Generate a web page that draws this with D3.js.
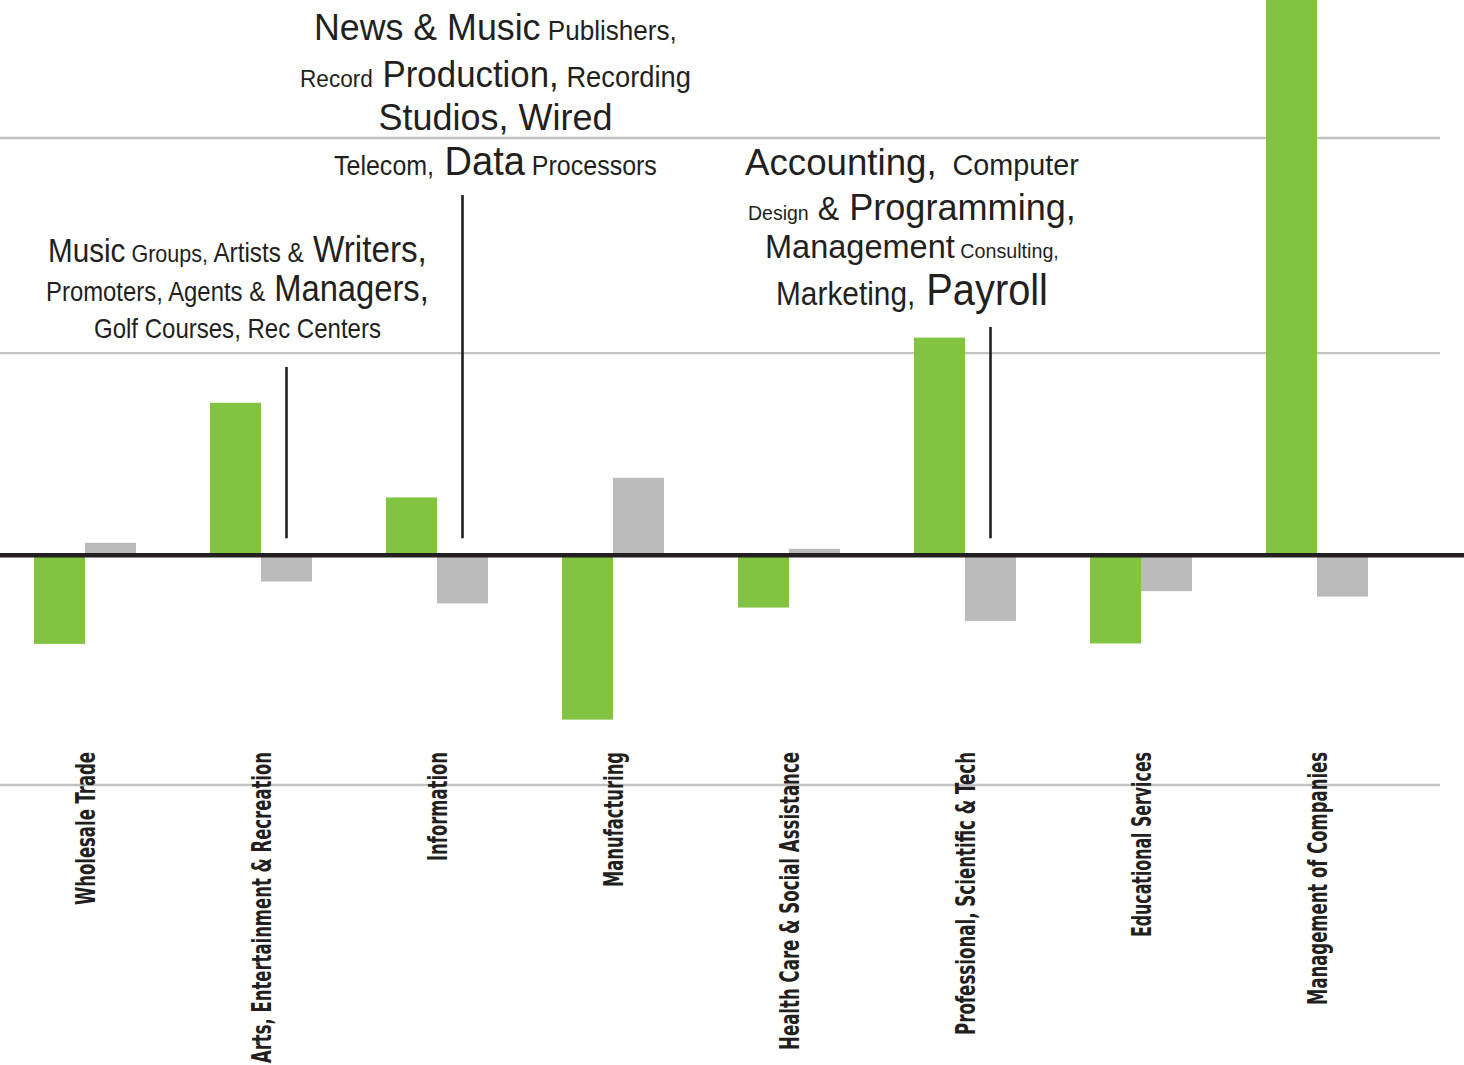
<!DOCTYPE html>
<html>
<head>
<meta charset="utf-8">
<script src="https://cdn.jsdelivr.net/npm/d3@7"></script>
<style>
  html, body { margin: 0; padding: 0; background: #ffffff; }
  svg { display: block; }
</style>
</head>
<body>
<svg id="chart" width="1464" height="1065"></svg>
<script>
// ---------- DATA ----------
const categories = [
  "Wholesale Trade",
  "Arts, Entertainment & Recreation",
  "Information",
  "Manufacturing",
  "Health Care & Social Assistance",
  "Professional, Scientific & Tech",
  "Educational Services",
  "Management of Companies"
];
const series = ["green", "gray"];
const greenValues = [-4.12, 7.09, 2.69, -7.64, -2.43, 10.12, -4.10, 28.0];
const grayValues  = [0.58, -1.22, -2.24, 3.60, 0.30, -3.06, -1.67, -1.92];
const gridValues  = [19.4, 9.4, -10.68];

// annotation texts: [text, sizeLevel]
const annoArts = [
  [["Music", 4], [" Groups,", 1], [" Artists &", 2], [" Writers,", 5]],
  [["Promoters, Agents &", 2], [" Managers,", 5]],
  [["Golf Courses, Rec Centers", 2]]
];
const annoInfo = [
  [["News & Music", 5], [" Publishers,", 2]],
  [["Record", 1], [" Production,", 5], [" Recording", 3]],
  [["Studios, Wired", 5]],
  [["Telecom,", 2], [" Data", 6], [" Processors", 2]]
];
const annoProf = [
  [["Accounting,", 5], ["  Computer", 3]],
  [["Design", 0], [" &", 4], [" Programming,", 5]],
  [["Management", 4], [" Consulting,", 0]],
  [["Marketing,", 4], [" Payroll", 7]]
];

// ---------- LAYOUT / STYLE ----------
const W = 1464, H = 1065;
const colors = { green: "#82c341", gray: "#bbbbbb" };
const ink = "#231f20";
const sizeLevels = [20, 24, 27, 29, 33, 37, 41, 44];
const labelWidths = [153, 311, 109, 135, 298, 283, 185, 253];

const svg = d3.select("#chart");

const x = d3.scalePoint().domain(categories).range([85, 1317]);
const xs = d3.scaleBand().domain(series).range([-51, 51]);
const y = d3.scaleLinear().domain([-10.68, 19.4]).range([785, 138]);

// gridlines
svg.append("g").selectAll("line").data(gridValues).join("line")
  .attr("x1", 0).attr("x2", 1440)
  .attr("y1", d => y(d)).attr("y2", d => y(d))
  .attr("stroke", "#c2c2c2").attr("stroke-width", 2.4);

// bars
const rows = categories.map((c, i) => ({ c, green: greenValues[i], gray: grayValues[i] }));
const g = svg.append("g");
rows.forEach(r => {
  series.forEach(s => {
    const v = r[s];
    g.append("rect")
      .attr("x", x(r.c) + xs(s))
      .attr("width", xs.bandwidth())
      .attr("y", Math.min(y(v), y(0)))
      .attr("height", Math.abs(y(v) - y(0)))
      .attr("fill", colors[s]);
  });
});

// zero line
svg.append("line")
  .attr("x1", 0).attr("x2", W)
  .attr("y1", y(0)).attr("y2", y(0))
  .attr("stroke", ink).attr("stroke-width", 4.5);

// category labels (rotated)
svg.append("g").selectAll("text").data(categories).join("text")
  .attr("transform", d => `translate(${x(d) + 10},752) rotate(-90)`)
  .attr("text-anchor", "end")
  .attr("font-family", "'Liberation Sans Narrow', 'Arial Narrow', 'DejaVu Sans Condensed', sans-serif")
  .attr("font-weight", "bold")
  .attr("font-size", 27)
  .attr("fill", ink)
  .attr("textLength", (d, i) => labelWidths[i])
  .attr("lengthAdjust", "spacingAndGlyphs")
  .text(d => d);

// annotations
const annotations = [
  { lines: annoArts, cat: categories[1], cx: 237.5, baselines: [262, 301, 338], widths: [379, 383, 287], top: 367 },
  { lines: annoInfo, cat: categories[2], cx: 495.5, baselines: [40, 87, 130, 175], widths: [363, 391, 234, 323], top: 195 },
  { lines: annoProf, cat: categories[5], cx: 912, baselines: [175, 220, 258, 305], widths: [334, 328, 294, 272], top: 327 }
];

annotations.forEach(a => {
  a.lines.forEach((segs, li) => {
    const t = svg.append("text")
      .attr("font-family", "'Liberation Sans', Arial, sans-serif")
      .attr("fill", ink)
      .attr("xml:space", "preserve")
      .style("white-space", "pre");
    segs.forEach(([txt, lvl]) => {
      t.append("tspan").attr("font-size", sizeLevels[lvl]).text(txt);
    });
    const w = t.node().getComputedTextLength();
    const s = a.widths[li] / w;
    t.attr("transform", `translate(${a.cx - a.widths[li] / 2},${a.baselines[li]}) scale(${s},1)`);
  });
  // pointer line at gray bar center
  const px = x(a.cat) + xs("gray") + xs.bandwidth() / 2;
  svg.append("line")
    .attr("x1", px).attr("x2", px)
    .attr("y1", a.top).attr("y2", y(0) - 17)
    .attr("stroke", ink).attr("stroke-width", 2.6);
});
</script>
</body>
</html>
